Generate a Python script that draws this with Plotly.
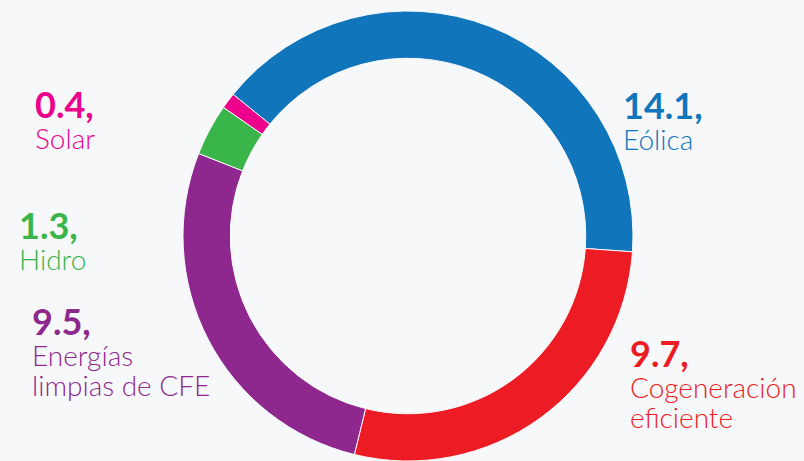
import plotly.graph_objects as go

# data
categories = ['Eólica', 'Cogeneración eficiente', 'Energías limpias de CFE', 'Hidro', 'Solar']
values = [14.1, 9.7, 9.5, 1.3, 0.4]
value_labels = ['14.1,', '9.7,', '9.5,', '1.3,', '0.4,']
label_lines = [['Eólica'], ['Cogeneración', 'eficiente'], ['Energías', 'limpias de CFE'], ['Hidro'], ['Solar']]
colors = ['#1175bc', '#ed1c24', '#8e278e', '#3ab54a', '#ec008c']

W, H = 804, 461
bg = '#f7f8f9'


def py(y):
    # pixel from top -> paper coordinate
    return 1 - y / H


fig = go.Figure(go.Pie(
    labels=categories,
    values=values,
    sort=False,
    direction='clockwise',
    rotation=-51,
    hole=0.79,
    textinfo='none',
    hoverinfo='label+value',
    marker=dict(colors=colors, line=dict(color=bg, width=1)),
    domain=dict(x=[183 / W, 633 / W], y=[0, py(11)]),
    showlegend=False,
))

# label positions (left x, baseline of number) in pixels
label_pos = [(621, 114), (628, 362), (30, 330), (17, 234), (33, 113)]

annotations = []
for (x, base), num, lines, col in zip(label_pos, value_labels, label_lines, colors):
    txt = '<span style="font-size:36px"><b>' + num + '</b></span>'
    for line in lines:
        txt += '<br><span style="font-size:28px;font-weight:300">' + line + '</span>'
    annotations.append(dict(
        x=x / W, y=py(base - 33), xref='paper', yref='paper',
        xanchor='left', yanchor='top', align='left', showarrow=False,
        text=txt,
        font=dict(family='Lato', size=23.5, color=col),
    ))

fig.update_layout(
    width=W, height=H,
    margin=dict(l=0, r=0, t=0, b=0),
    paper_bgcolor=bg, plot_bgcolor=bg,
    annotations=annotations,
)

fig.write_html('out.html', config={'displayModeBar': False},
               post_script="document.body.style.margin='0';")
